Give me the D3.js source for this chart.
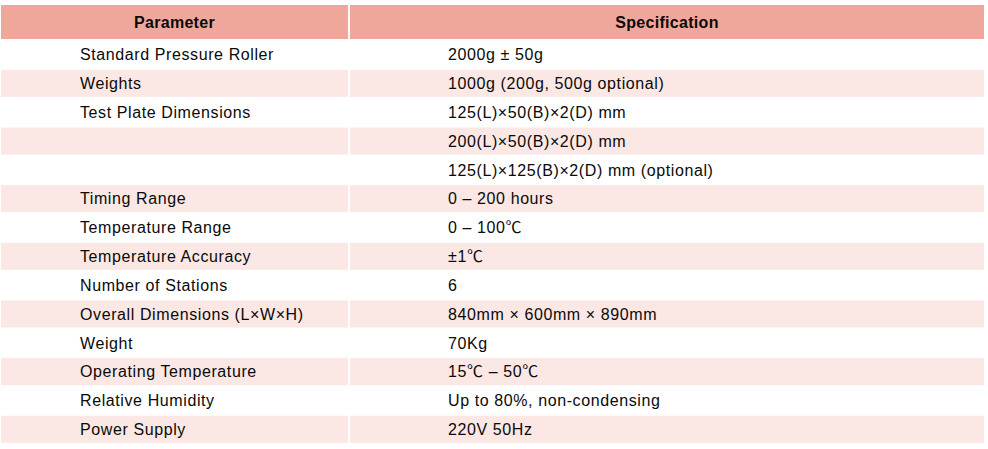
<!DOCTYPE html>
<html>
<head>
<meta charset="utf-8">
<script src="https://cdn.jsdelivr.net/npm/d3@7"></script>
<style>
  body { margin: 0; background: #fff; }
  svg text { font-family: "Liberation Sans", Arial, "Noto Sans CJK SC", sans-serif; }
</style>
</head>
<body>
<div id="table"></div>
<script>
/** table contents **/
var headers = ["Parameter", "Specification"];
var parameters = [
    "Standard Pressure Roller", "Weights", "Test Plate Dimensions", "", "",
    "Timing Range", "Temperature Range", "Temperature Accuracy", "Number of Stations",
    "Overall Dimensions (L\u00d7W\u00d7H)", "Weight", "Operating Temperature",
    "Relative Humidity", "Power Supply"
];
var specifications = [
    "2000g \u00b1 50g", "1000g (200g, 500g optional)", "125(L)\u00d750(B)\u00d72(D) mm",
    "200(L)\u00d750(B)\u00d72(D) mm", "125(L)\u00d7125(B)\u00d72(D) mm (optional)",
    "0 \u2013 200 hours", "0 \u2013 100\u2103", "\u00b11\u2103", "6",
    "840mm \u00d7 600mm \u00d7 890mm", "70Kg", "15\u2103 \u2013 50\u2103",
    "Up to 80%, non-condensing", "220V 50Hz"
];

/** layout **/
var width = 988,
    height = 449,
    headerTop = 5,
    headerHeight = 34,
    rowStep = 28.83,
    rowPad = 0.0635,
    colEdges = [1, 348, 350, 984],   // left cell [1,348], right cell [350,984]
    textInset = [79, 98],
    headerFill = "#f0a79b",
    stripeFill = "#fbe7e4";

var rows = parameters.map(function(p, i) {
    return { param: p, spec: specifications[i], index: i };
});

var svg = d3.select("#table").append("svg")
    .attr("width", width)
    .attr("height", height);

var firstTop = headerTop + headerHeight + 2;
var y = d3.scaleBand()
    .domain(d3.range(rows.length))
    .range([firstTop, firstTop + rows.length * rowStep - rowStep * rowPad])
    .paddingInner(rowPad)
    .paddingOuter(0);

var columns = [
    { key: "param", x0: colEdges[0], x1: colEdges[1] },
    { key: "spec", x0: colEdges[2], x1: colEdges[3] }
];

// header
var head = svg.append("g").attr("class", "header");
head.selectAll("rect")
    .data(columns)
    .enter().append("rect")
    .attr("x", function(d) { return d.x0; })
    .attr("y", headerTop)
    .attr("width", function(d) { return d.x1 - d.x0; })
    .attr("height", headerHeight)
    .style("fill", headerFill);

head.selectAll("text")
    .data(columns)
    .enter().append("text")
    .attr("x", function(d) { return (d.x0 + d.x1) / 2; })
    .attr("y", headerTop + headerHeight / 2)
    .attr("dy", "0.36em")
    .attr("text-anchor", "middle")
    .style("font-weight", "bold")
    .style("font-size", "16px")
    .style("letter-spacing", "0.3px")
    .style("fill", "#0a0a0a")
    .text(function(d, i) { return headers[i]; });

// body rows
var row = svg.selectAll(".row")
    .data(rows)
    .enter().append("g")
    .attr("class", "row");

row.selectAll("rect")
    .data(function(d) { return columns.map(function(c) { return { row: d, col: c }; }); })
    .enter().append("rect")
    .attr("x", function(d) { return d.col.x0; })
    .attr("y", function(d) { return y(d.row.index); })
    .attr("width", function(d) { return d.col.x1 - d.col.x0; })
    .attr("height", y.bandwidth())
    .style("fill", function(d) { return d.row.index % 2 ? stripeFill : "#fff"; });

row.selectAll("text")
    .data(function(d) { return columns.map(function(c, i) { return { row: d, col: c, i: i }; }); })
    .enter().append("text")
    .attr("x", function(d) { return d.col.x0 + textInset[d.i]; })
    .attr("y", function(d) { return y(d.row.index) + y.bandwidth() / 2; })
    .attr("dy", "0.36em")
    .style("font-size", "16px")
    .style("letter-spacing", "0.6px")
    .style("fill", "#0a0a0a")
    .text(function(d) { return d.row[d.col.key]; });
</script>
</body>
</html>
